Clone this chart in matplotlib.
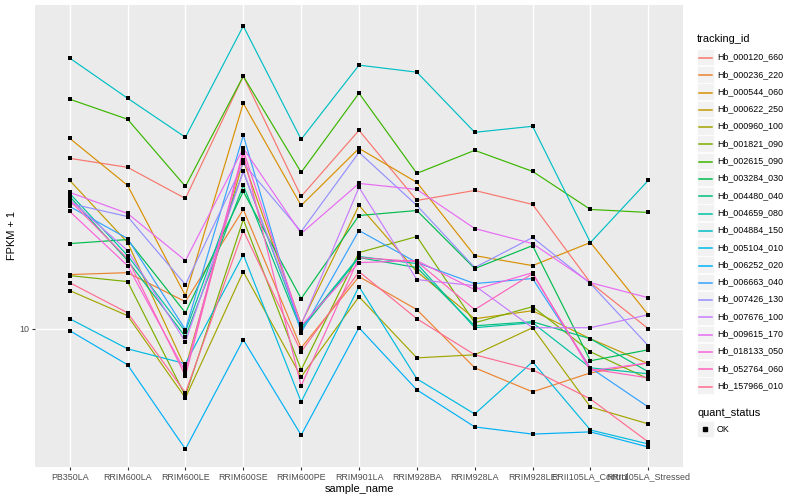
import numpy as np
import matplotlib
matplotlib.use("Agg")
import matplotlib.pyplot as plt
from matplotlib.patches import Rectangle
from matplotlib.lines import Line2D
from matplotlib.ticker import NullLocator

plt.rcParams['font.family'] = ['Liberation Sans', 'DejaVu Sans']

samples = ["PB350LA", "RRIM600LA", "RRIM600LE", "RRIM600SE", "RRIM600PE",
           "RRIM901LA", "RRIM928BA", "RRIM928LA", "RRIM928LE",
           "RRII105LA_Control", "RRII105LA_Stressed"]

tracking_ids = ["Hb_000120_660", "Hb_000236_220", "Hb_000544_060", "Hb_000622_250",
                "Hb_000960_100", "Hb_001821_090", "Hb_002615_090", "Hb_003284_030",
                "Hb_004480_040", "Hb_004659_080", "Hb_004884_150", "Hb_005104_010",
                "Hb_006252_020", "Hb_006663_040", "Hb_007426_130", "Hb_007676_100",
                "Hb_009615_170", "Hb_018133_050", "Hb_052764_060", "Hb_157966_010"]

# ggplot default hue palette, 20 levels
colors = ["#F8766D", "#EA8331", "#D89000", "#C09B00", "#A3A500", "#7CAE00",
          "#39B600", "#00BB4E", "#00BF7D", "#00C1A3", "#00BFC4", "#00BAE0",
          "#00B0F6", "#35A2FF", "#9590FF", "#C77CFF", "#E76BF3", "#FA62DB",
          "#FF62BC", "#FF6C91"]

# FPKM + 1, one list per gene, in sample order
hb_000120_660 = [26.61, 25.27, 21.13, 42.66, 21.38, 31.26, 20.89, 22.13, 20.42, 13.03, 10.00]
hb_000236_220 = [13.65, 13.80, 11.68, 19.84, 8.96, 13.49, 11.16, 7.99, 6.96, 7.76, 8.22]
hb_000544_060 = [29.85, 22.78, 12.09, 36.51, 20.30, 28.18, 23.17, 15.22, 14.37, 16.41, 10.84]
hb_000622_250 = [23.44, 16.41, 7.99, 26.30, 10.29, 20.30, 13.88, 10.59, 11.09, 9.44, 8.18]
hb_000960_100 = [12.45, 10.78, 6.72, 13.88, 7.59, 12.02, 8.46, 8.61, 10.06, 6.38, 5.79]
hb_001821_090 = [13.57, 13.11, 6.80, 18.73, 7.90, 15.49, 16.98, 10.35, 11.35, 8.76, 7.50]
hb_002615_090 = [37.37, 33.31, 22.65, 42.66, 24.55, 38.68, 24.41, 27.86, 24.69, 19.84, 19.50]
hb_003284_030 = [16.31, 16.69, 10.96, 22.00, 11.89, 19.16, 19.72, 14.13, 16.12, 8.32, 8.86]
hb_004480_040 = [21.38, 14.79, 9.55, 22.78, 9.94, 15.05, 14.21, 10.17, 10.41, 9.44, 7.81]
hb_004659_080 = [21.75, 15.22, 9.83, 24.69, 10.06, 15.14, 14.54, 10.06, 10.35, 7.99, 7.72]
hb_004884_150 = [47.32, 37.58, 30.03, 56.89, 29.68, 45.45, 43.65, 30.90, 31.99, 16.41, 23.44]
hb_005104_010 = [10.59, 8.91, 8.18, 15.31, 6.57, 12.74, 7.50, 6.13, 8.27, 5.59, 5.16]
hb_006252_020 = [9.89, 8.13, 5.01, 9.39, 5.43, 10.06, 7.04, 5.69, 5.46, 5.53, 5.07]
hb_006663_040 = [20.18, 16.79, 9.94, 30.37, 9.77, 17.58, 14.62, 12.96, 13.34, 7.99, 6.38]
hb_007426_130 = [20.54, 19.05, 12.88, 25.85, 17.48, 27.54, 20.30, 14.21, 16.89, 12.96, 9.07]
hb_007676_100 = [21.01, 15.67, 9.28, 24.69, 10.23, 22.52, 13.26, 12.81, 10.06, 10.06, 10.84]
hb_009615_170 = [21.88, 19.39, 14.79, 28.18, 17.28, 23.04, 22.26, 17.78, 16.31, 13.03, 11.95]
hb_018133_050 = [19.61, 14.37, 7.81, 27.86, 10.17, 14.62, 14.79, 12.52, 13.80, 7.85, 8.22]
hb_052764_060 = [20.89, 14.96, 7.63, 27.38, 7.20, 15.05, 14.71, 11.16, 13.72, 7.94, 7.54]
hb_157966_010 = [13.03, 10.96, 6.92, 17.58, 8.76, 13.88, 10.59, 8.61, 7.90, 6.68, 5.22]

series = [hb_000120_660, hb_000236_220, hb_000544_060, hb_000622_250, hb_000960_100,
          hb_001821_090, hb_002615_090, hb_003284_030, hb_004480_040, hb_004659_080,
          hb_004884_150, hb_005104_010, hb_006252_020, hb_006663_040, hb_007426_130,
          hb_007676_100, hb_009615_170, hb_018133_050, hb_052764_060, hb_157966_010]

W, H = 800, 500
fig = plt.figure(figsize=(W / 100, H / 100), dpi=100)

def fx(px):
    return px / W

def fy(py):
    return 1 - py / H

ax = fig.add_axes([fx(35), fy(467), (683 - 35) / W, (467 - 5) / H])
ax.set_facecolor('#EBEBEB')
ax.set_yscale('log')

x = np.arange(len(samples))
for vals, c in zip(series, colors):
    ax.plot(x, vals, color=c, lw=0.85, zorder=2)
for vals in series:
    ax.scatter(x, vals, marker='s', s=7, color='black', lw=0, zorder=3)

ax.set_xlim(-0.6, len(samples) - 0.4)
ax.set_ylim(4.52, 64.2)
ax.set_xticks(x)
ax.set_xticklabels(samples)
ax.set_yticks([10])
ax.set_yticklabels(['10'])
ax.yaxis.set_minor_locator(NullLocator())
ax.grid(True, color='white', lw=1.0, zorder=0)
ax.set_axisbelow(True)
for s in ax.spines.values():
    s.set_visible(False)
ax.tick_params(axis='both', length=2, width=0.8, color='#333333',
               labelcolor='#4D4D4D', labelsize=6.4, pad=2.0)

fig.text(fx(359), fy(489), "sample_name", ha='center', va='center', fontsize=7.9)
fig.text(fx(12), fy(236), "FPKM + 1", ha='center', va='center', rotation=90, fontsize=7.9)

# legend: tracking_id
fig.text(fx(697), fy(39), "tracking_id", ha='left', va='center', fontsize=7.9)
step = 17.3
for i, (name, c) in enumerate(zip(tracking_ids, colors)):
    yc = 57 + i * step
    fig.add_artist(Rectangle((fx(697), fy(yc + 8.3)), 16.6 / W, 16.6 / H,
                             transform=fig.transFigure, facecolor='#F2F2F2',
                             edgecolor='white', lw=0.5, zorder=1))
    fig.add_artist(Line2D([fx(699), fx(712)], [fy(round(yc) + 0.5), fy(round(yc) + 0.5)],
                          transform=fig.transFigure, color=c, lw=1.1, zorder=3))
    fig.text(fx(717), fy(yc), name, ha='left', va='center', fontsize=6.4)

# legend: quant_status
fig.text(fx(697), fy(413), "quant_status", ha='left', va='center', fontsize=7.9)
fig.add_artist(Rectangle((fx(697), fy(429 + 8.3)), 16.6 / W, 16.6 / H,
                         transform=fig.transFigure, facecolor='#F2F2F2',
                         edgecolor='white', lw=0.5, zorder=1))
fig.add_artist(Line2D([fx(705)], [fy(429)], transform=fig.transFigure,
                      marker='s', markersize=2.8, color='black', lw=0, zorder=3))
fig.text(fx(717), fy(429), "OK", ha='left', va='center', fontsize=6.4)

fig.savefig("out.png", dpi=100)
